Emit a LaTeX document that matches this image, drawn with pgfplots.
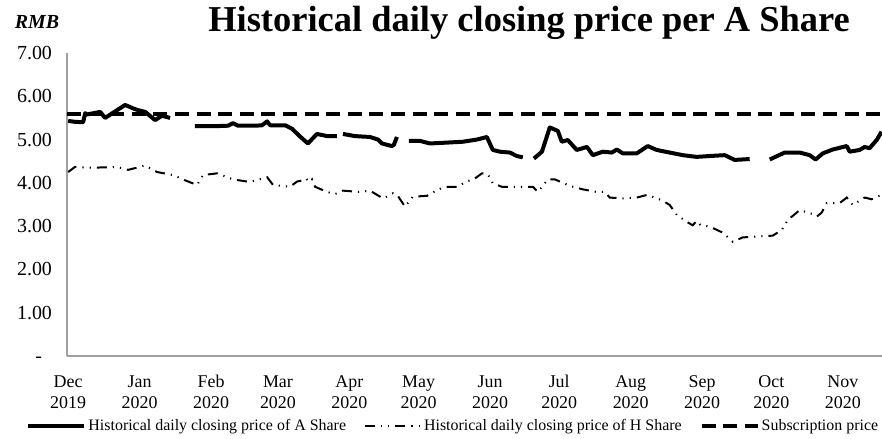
\documentclass[border=0pt]{standalone}
\usepackage{fontspec}
\setmainfont{Liberation Serif}
\usepackage{pgfplots}
\usepackage{pgfplotstable}
\pgfplotsset{compat=1.18}

\pgfplotstableread{
d v
0 5.43
3.0 5.41
6.5 5.40
7.4 5.61
8.2 5.58
13.9 5.64
16.0 5.50
19.5 5.62
24.7 5.80
28.2 5.72
30.3 5.68
33.4 5.64
37.7 5.45
40.7 5.55
44.2 5.50
50 nan
55.0 5.31
63.7 5.31
69.4 5.32
71.5 5.38
73.7 5.32
81.1 5.32
84.1 5.33
86.3 5.42
87.6 5.33
94.1 5.33
97.1 5.25
100.6 5.07
104.0 4.91
107.9 5.13
112.3 5.08
116.6 5.08
118 nan
119.2 5.13
124.4 5.08
130.9 5.06
134.4 5.00
136.1 4.91
140.4 4.85
141.3 4.88
142.6 5.06
145 nan
147.8 4.97
152.6 4.97
156.9 4.91
164.3 4.93
171.2 4.95
177.3 5.00
181.6 5.06
184.2 4.76
187.3 4.72
191.6 4.70
194.6 4.62
197.2 4.59
199 nan
202.0 4.56
205.5 4.72
208.9 5.28
212.4 5.20
214.1 4.95
216.7 4.99
220.6 4.76
225.0 4.83
227.6 4.64
231.9 4.72
235.8 4.70
238.0 4.77
240.6 4.68
246.6 4.68
251.4 4.85
255.3 4.76
260.9 4.70
266.6 4.64
272.6 4.60
278.3 4.62
284.8 4.64
289.1 4.53
295.6 4.55
300 nan
304.3 4.54
310.8 4.70
317.3 4.70
321.6 4.64
324.2 4.54
327.3 4.68
331.6 4.77
337.7 4.85
339.0 4.72
343.3 4.76
345.5 4.83
347.6 4.80
350.7 4.99
352.8 5.18
}\ashare

\pgfplotstableread{
d v
0 4.25
3.0 4.37
9.5 4.35
18.2 4.36
21.2 4.37
26.0 4.30
33.4 4.40
38.6 4.25
45.5 4.18
50.7 4.06
55.9 3.95
58.5 4.18
64.6 4.22
71.5 4.08
78.9 4.02
86.3 4.13
88.9 3.95
96.2 3.91
99.3 4.03
101.9 4.06
103.2 4.10
104.5 4.02
105.8 4.08
107.1 3.91
112.3 3.79
115.7 3.74
119.2 3.82
126.6 3.79
130.9 3.82
136.6 3.64
140.9 3.76
143.0 3.70
146.1 3.45
149.5 3.68
155.6 3.70
159.9 3.83
163.4 3.91
168.6 3.91
172.9 4.03
176.4 4.10
179.5 4.22
182.0 4.20
184.2 3.99
188.1 3.91
192.9 3.91
199.0 3.91
201.6 3.91
203.7 3.79
208.1 4.08
211.1 4.08
217.6 3.93
223.2 3.85
229.3 3.79
232.8 3.79
234.9 3.66
240.6 3.64
246.6 3.66
251.0 3.72
257.5 3.60
260.9 3.49
264.0 3.26
268.3 3.10
270.9 3.02
272.6 3.12
274.4 3.02
278.3 2.99
283.9 2.85
288.3 2.64
292.6 2.74
298.7 2.76
305.6 2.78
309.5 2.91
312.1 3.14
317.3 3.37
322.9 3.28
324.7 3.22
326.8 3.31
329.0 3.53
334.6 3.53
337.7 3.66
340.3 3.49
345.5 3.66
348.5 3.62
350.7 3.68
352.8 3.72
}\hshare

\begin{document}
\begin{tikzpicture}
\useasboundingbox (0,0) rectangle (441bp,219.5bp);
\begin{axis}[
  at={(33.5bp,41.5bp)}, anchor=south west,
  scale only axis, width=407.5bp, height=151.5bp,
  xmin=-0.5, xmax=353, ymin=0, ymax=7,
  axis x line*=bottom, axis y line*=left,
  axis line style={-, draw=gray!75, line width=0.6bp},
  major tick length=0pt,
  xtick={0,31,62,91,122,152,183,213,244,275,305,336},
  xticklabels={{\strut Dec\\\strut 2019},{\strut Jan\\\strut 2020},{\strut Feb\\\strut 2020},{\strut Mar\\\strut 2020},{\strut Apr\\\strut 2020},{\strut May\\\strut 2020},{\strut Jun\\\strut 2020},{\strut Jul\\\strut 2020},{\strut Aug\\\strut 2020},{\strut Sep\\\strut 2020},{\strut Oct\\\strut 2020},{\strut Nov\\\strut 2020}},
  xticklabel style={align=center, font=\fontsize{9}{10.5}\selectfont, yshift=-5bp},
  ytick={0,1,2,3,4,5,6,7},
  yticklabels={-\phantom{0},1.00,2.00,3.00,4.00,5.00,6.00,7.00},
  yticklabel style={font=\fontsize{10}{11}\selectfont, xshift=-4bp},
  unbounded coords=jump,
  clip=false,
  legend columns=3,
  legend style={draw=none, fill=none, at={(0.474,-0.232)}, anchor=center,
    font=\fontsize{8}{9}\selectfont,
    /tikz/every even column/.append style={column sep=8bp},
    nodes={inner sep=1bp}},
  legend image code/.code={\draw[#1] (0bp,0bp) -- (28bp,0bp);},
]
\addplot[black, line width=2bp, line join=round] table[x=d, y=v] {\ashare};
\addlegendentry{Historical daily closing price of A Share}
\addplot[black, line width=1bp, dash pattern=on 5bp off 3bp on 0.6bp off 3bp on 0.6bp off 3bp] table[x=d, y=v] {\hshare};
\addlegendentry{Historical daily closing price of H Share}
\addplot[black, line width=2bp, dash pattern=on 7bp off 3.8bp] coordinates {(-0.5,5.58) (353,5.58)};
\addlegendentry{Subscription price}
\end{axis}
\node[font=\bfseries\fontsize{18.3}{20}\selectfont] at (264.5bp,208bp) {Historical daily closing price per A Share};
\node[font=\bfseries\itshape\fontsize{10}{11}\selectfont] at (18.5bp,208.5bp) {RMB};
\end{tikzpicture}
\end{document}
